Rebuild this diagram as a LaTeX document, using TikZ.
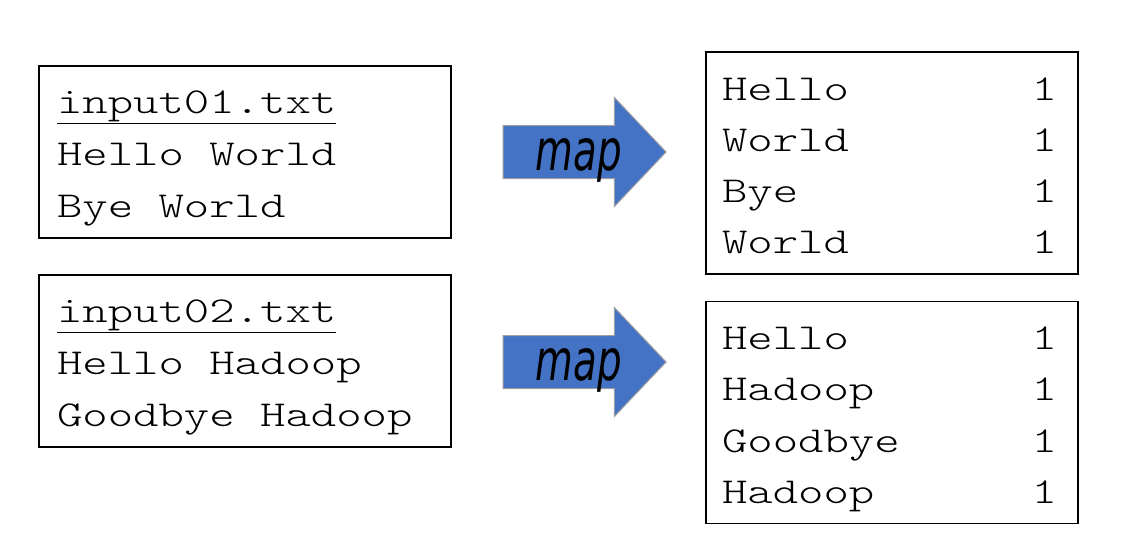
\documentclass[tikz,border=0pt]{standalone}
\usepackage{fontspec}
\setmonofont[FakeStretch=1.325]{Latin Modern Mono Light}
\newfontfamily\mapfont[FakeStretch=0.68]{DejaVu Sans}
\usetikzlibrary{shapes.arrows}
\definecolor{mapblue}{HTML}{4472C4}
\newcommand\countline[1]{\makebox[335pt][l]{#1\hfill 1}}
\newcommand\monospace{\fontdimen2\font=25.4pt\fontdimen3\font=0pt\fontdimen4\font=0pt}
\tikzset{
  filebox/.style={draw,line width=1.2pt,minimum width=412pt,minimum height=172pt,
    text width=376pt,inner xsep=18pt,align=flush left,text height=30pt,text depth=108pt,
    font=\ttfamily\fontsize{36.5}{52}\selectfont\monospace},
  countbox/.style={draw,line width=1.2pt,minimum width=372pt,minimum height=222pt,
    text width=340pt,inner xsep=16pt,align=flush left,text height=30pt,text depth=156pt,
    font=\ttfamily\fontsize{36.5}{51.3}\selectfont\monospace},
  maparrow/.style={single arrow,draw=gray!75,fill=mapblue,line width=1pt,
    minimum height=163pt,single arrow head extend=28pt,single arrow tip angle=93,
    inner ysep=0pt,text height=44pt,text depth=8pt,
    font=\mapfont\itshape\fontsize{57}{60}\selectfont}
}
\begin{document}
\begin{tikzpicture}[x=1pt,y=-1pt]
\useasboundingbox (0,0) rectangle (1138,552);
% input files
\node[filebox] (in1) at (245,152) {\underline{input01.txt}\\Hello World\\Bye World};
\node[filebox] (in2) at (245,361) {\underline{input02.txt}\\Hello Hadoop\\Goodbye Hadoop};
% map steps
\node[maparrow] (map1) at (572,152) {\hspace*{14pt}map};
\node[maparrow] (map2) at (572,362) {\hspace*{14pt}map};
% map output
\node[countbox] (out1) at (892,163) {\countline{Hello}\\\countline{World}\\\countline{Bye}\\\countline{World}};
\node[countbox] (out2) at (892,412.5) {\countline{Hello}\\\countline{Hadoop}\\\countline{Goodbye}\\\countline{Hadoop}};
\end{tikzpicture}
\end{document}
